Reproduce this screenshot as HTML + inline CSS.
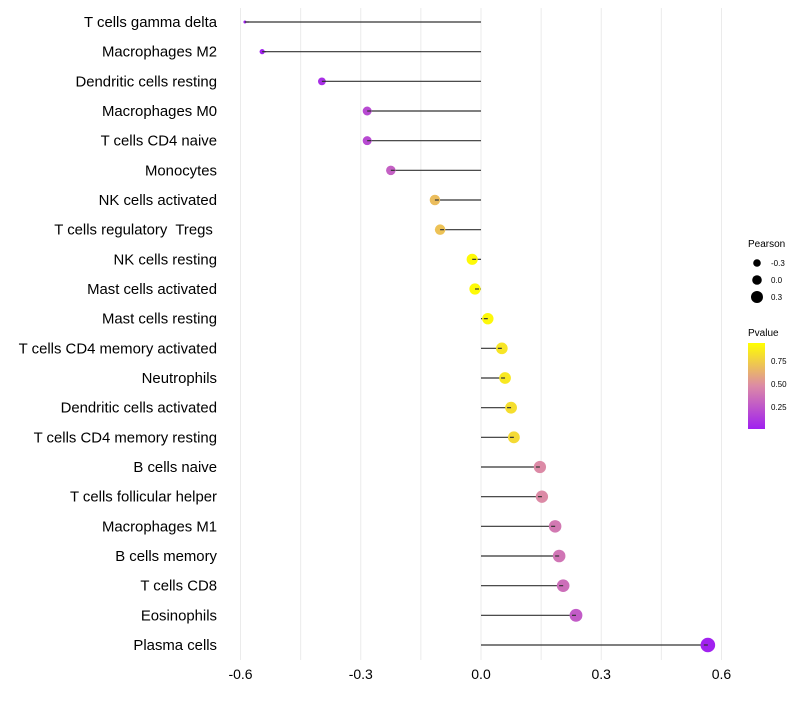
<!DOCTYPE html>
<html><head><meta charset="utf-8"><style>
html,body{margin:0;padding:0;background:#fff;}
svg text{font-family:"Liberation Sans",sans-serif;white-space:pre;}
</style></head><body>
<svg id="chart" width="800" height="700" xmlns="http://www.w3.org/2000/svg">
<defs><linearGradient id="pg" x1="0" y1="1" x2="0" y2="0">
<stop offset="0" stop-color="#a020f0"/><stop offset="0.5" stop-color="#dc8aa6"/><stop offset="1" stop-color="#ffff00"/>
</linearGradient></defs>
<g id="grid"></g><g id="marks"></g><g id="labels"></g>
<g>
<text x="748" y="247" font-size="10">Pearson</text>
<circle cx="757" cy="263" r="3.8" fill="#000"/>
<text x="771" y="266" font-size="8">-0.3</text>
<circle cx="757" cy="280" r="4.8" fill="#000"/>
<text x="771" y="283" font-size="8">0.0</text>
<circle cx="757" cy="297" r="6" fill="#000"/>
<text x="771" y="300" font-size="8">0.3</text>
<text x="748" y="336" font-size="10">Pvalue</text>
<rect x="748" y="343" width="17" height="86" fill="url(#pg)"/>
<text x="771" y="364" font-size="8">0.75</text>
<text x="771" y="387" font-size="8">0.50</text>
<text x="771" y="410" font-size="8">0.25</text>
</g>
</svg>
<script>
const categories=["T cells gamma delta","Macrophages M2","Dendritic cells resting","Macrophages M0","T cells CD4 naive","Monocytes","NK cells activated","T cells regulatory  Tregs ","NK cells resting","Mast cells activated","Mast cells resting","T cells CD4 memory activated","Neutrophils","Dendritic cells activated","T cells CD4 memory resting","B cells naive","T cells follicular helper","Macrophages M1","B cells memory","T cells CD8","Eosinophils","Plasma cells"];
const pearson=[-0.589,-0.546,-0.397,-0.284,-0.284,-0.225,-0.115,-0.102,-0.022,-0.015,0.017,0.052,0.060,0.075,0.082,0.147,0.152,0.185,0.195,0.205,0.237,0.566];
const pvalues=[0.0,0.01,0.07,0.2,0.2,0.3,0.72,0.74,0.98,0.98,0.97,0.89,0.9,0.86,0.84,0.5,0.5,0.42,0.4,0.37,0.28,0.01];
const xTicks=[-0.6,-0.3,0.0,0.3,0.6];
const xTickLabels=["-0.6","-0.3","0.0","0.3","0.6"];
const NS="http://www.w3.org/2000/svg";
const vmin=Math.min(...pearson);
function xs(v){return 481+v*400.8;}
function ys(i){return 22+i*(623/21);}
function rs(v){return 1.5+5.4*Math.sqrt(Math.max(0,v-vmin));}
function hex(c){return [1,3,5].map(i=>parseInt(c.substr(i,2),16));}
function col(p){const s=[[0,"#a020f0"],[0.5,"#dc8aa6"],[1,"#ffff00"]];
 let a=s[0],b=s[1]; if(p>0.5){a=s[1];b=s[2];}
 const t=(p-a[0])/(b[0]-a[0]);const A=hex(a[1]),B=hex(b[1]);
 return "rgb("+A.map((x,k)=>Math.round(x+(B[k]-x)*t)).join(",")+")";}
function mk(tag,attrs,parent){const e=document.createElementNS(NS,tag);for(const k in attrs)e.setAttribute(k,attrs[k]);parent.appendChild(e);return e;}
const grid=document.getElementById("grid"),marks=document.getElementById("marks"),labels=document.getElementById("labels");
for(let v=-0.6;v<=0.61;v+=0.15){const l=mk("line",{x1:xs(v),x2:xs(v),y1:8,y2:660,stroke:"#ebebeb","stroke-width":1},grid);

}
xTicks.forEach((v,i)=>{const t=mk("text",{x:xs(v),y:679,"font-size":14,"text-anchor":"middle",fill:"#000"},labels);t.textContent=xTickLabels[i];

});
categories.forEach((c,i)=>{const y=ys(i);
 const t=mk("text",{x:217,y:y+5,"font-size":14.9,"text-anchor":"end",fill:"#000"},labels);t.textContent=c;
 
 
 const ln=mk("line",{x1:xs(0),x2:xs(pearson[i]),y1:y,y2:y,stroke:"#333","stroke-width":1.2},marks);
 
 
 const ci=mk("circle",{cx:xs(pearson[i]),cy:y,r:rs(pearson[i]),fill:col(pvalues[i])},marks);
 
 
 const ln2=mk("line",{x1:xs(pearson[i]),x2:xs(pearson[i])+(pearson[i]<0?4:-4),y1:y,y2:y,stroke:"#333","stroke-width":1.2},marks);
 
 
});
</script>
</body></html>
